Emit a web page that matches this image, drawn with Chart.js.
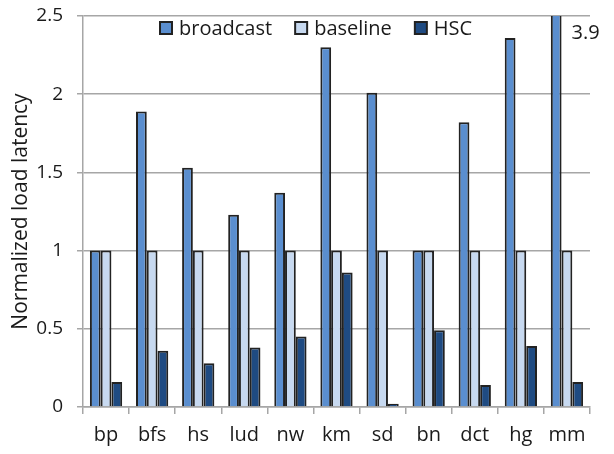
<!DOCTYPE html>
<html>
<head>
<meta charset="utf-8">
<script src="https://cdn.jsdelivr.net/npm/chart.js@4.4.1/dist/chart.umd.min.js"></script>
<style>
  html, body { margin: 0; padding: 0; background: #fff; }
  #wrap { width: 614px; height: 454px; }
</style>
</head>
<body>
<div id="wrap"><canvas id="latChart" width="614" height="454"></canvas></div>
<script>
const categories = ['bp', 'bfs', 'hs', 'lud', 'nw', 'km', 'sd', 'bn', 'dct', 'hg', 'mm'];
const broadcast = [1.0, 1.89, 1.53, 1.23, 1.37, 2.30, 2.01, 1.0, 1.82, 2.36, 3.9];
const baseline  = [1, 1, 1, 1, 1, 1, 1, 1, 1, 1, 1];
const hsc       = [0.16, 0.36, 0.28, 0.38, 0.45, 0.86, 0.02, 0.49, 0.14, 0.39, 0.16];
const yTicks = [0, 0.5, 1, 1.5, 2, 2.5];

const FONT = '"Open Sans", "Liberation Sans", sans-serif';
const GRID = '#a6a6a6';
const TEXT = '#1a1a1a';

// legend drawn inside the plot, near the top
const legendInside = {
    id: 'legendInside',
    afterDraw(chart) {
        const ctx = chart.ctx;
        const area = chart.chartArea;
        ctx.save();
        ctx.font = '20px ' + FONT;
        ctx.textBaseline = 'middle';
        let x = area.left + 77;
        const y = area.top + 12;
        chart.data.datasets.forEach(ds => {
            ctx.fillStyle = ds.backgroundColor;
            ctx.fillRect(x, y - 6, 12, 12);
            ctx.strokeStyle = '#222';
            ctx.lineWidth = 2;
            ctx.strokeRect(x, y - 6, 12, 12);
            ctx.fillStyle = TEXT;
            ctx.fillText(ds.label, x + 19, y + 1);
            x += 19 + ctx.measureText(ds.label).width + 23;
        });
        ctx.restore();
    }
};

// value label for the clipped mm bar
const clipLabel = {
    id: 'clipLabel',
    afterDatasetsDraw(chart) {
        const meta = chart.getDatasetMeta(0);
        const i = categories.indexOf('mm');
        const bar = meta.data[i];
        const ctx = chart.ctx;
        ctx.save();
        ctx.font = '20px ' + FONT;
        ctx.fillStyle = TEXT;
        ctx.textBaseline = 'middle';
        ctx.fillText(String(broadcast[i]), bar.x + bar.width / 2 + 10, chart.chartArea.top + 17);
        ctx.restore();
    }
};

const ctx = document.getElementById('latChart').getContext('2d');
new Chart(ctx, {
    type: 'bar',
    data: {
        labels: categories,
        datasets: [
            { label: 'broadcast', data: broadcast, backgroundColor: '#5a8ecf' },
            { label: 'baseline', data: baseline, backgroundColor: '#c7d9f0' },
            { label: 'HSC', data: hsc, backgroundColor: '#1f4b82' }
        ]
    },
    options: {
        responsive: false,
        animation: false,
        devicePixelRatio: 1,
        layout: { padding: { left: 0, top: 16, right: 24, bottom: 0 } },
        datasets: {
            bar: {
                borderColor: '#222',
                borderWidth: 2,
                categoryPercentage: 0.7,
                barPercentage: 1.0
            }
        },
        plugins: {
            legend: { display: false },
            tooltip: { enabled: false }
        },
        scales: {
            x: {
                grid: {
                    offset: true,
                    drawOnChartArea: false,
                    drawTicks: true,
                    tickLength: 7,
                    color: GRID,
                    lineWidth: 1.5
                },
                border: { color: GRID, width: 1.5 },
                ticks: { color: TEXT, font: { family: FONT, size: 20 }, padding: 9 },
                afterFit: s => { s.height = 47; s.paddingLeft = 0; s.paddingRight = 0; }
            },
            y: {
                min: 0,
                max: 2.5,
                afterBuildTicks: s => { s.ticks = yTicks.map(v => ({ value: v })); },
                grid: { color: GRID, lineWidth: 1.5, tickLength: 6 },
                border: { color: GRID, width: 1.5 },
                ticks: {
                    color: TEXT,
                    font: { family: FONT, size: 19 },
                    padding: 14,
                    callback: v => String(v)
                },
                title: {
                    display: true,
                    text: 'Normalized load latency',
                    color: TEXT,
                    font: { family: FONT, size: 21 },
                    padding: { top: 8, bottom: 0 }
                },
                afterFit: s => { s.width = 83; s.paddingTop = 0; s.paddingBottom = 0; }
            }
        }
    },
    plugins: [legendInside, clipLabel]
});
</script>
</body>
</html>
